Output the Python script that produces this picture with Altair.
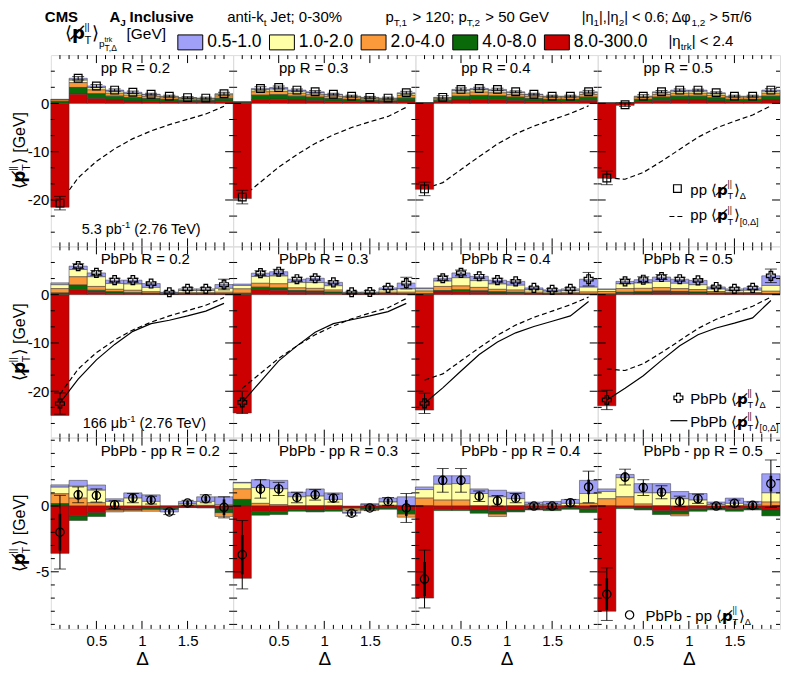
import altair as alt
import pandas as pd

FONT = "Liberation Sans"
SYM_FONT = "DejaVu Sans"

# ------------------------------------------------------------------ data
BIN_EDGES = [0.0, 0.2, 0.4, 0.6, 0.8, 1.0, 1.2, 1.4, 1.6, 1.8, 2.0]
BIN_CENTERS = [0.1, 0.3, 0.5, 0.7, 0.9, 1.1, 1.3, 1.5, 1.7, 1.9]
TRACK_PT_BINS = ["0.5-1.0", "1.0-2.0", "2.0-4.0", "4.0-8.0", "8.0-300.0"]
BIN_COLORS = ["#a0a0f8", "#ffffa8", "#fa9a3a", "#0a6a0a", "#cc0000"]
STACK_ORDER = {"8.0-300.0": 0, "4.0-8.0": 1, "2.0-4.0": 2, "1.0-2.0": 3, "0.5-1.0": 4}
CONE_SIZES = ["0.2", "0.3", "0.4", "0.5"]
ROW_LABELS = ["pp", "PbPb", "PbPb - pp"]

# pp <p_T^||>_Delta per track-pT bin
PP_R02 = {
    "0.5-1.0":   [0.05, 0.40, 0.35, 0.25, 0.25, 0.15, 0.10, 0.08, 0.08, 0.15],
    "1.0-2.0":   [0.10, 0.50, 0.45, 0.40, 0.35, 0.30, 0.25, 0.17, 0.15, 0.30],
    "2.0-4.0":   [0.30, 1.00, 0.80, 0.60, 0.50, 0.45, 0.35, 0.30, 0.27, 0.50],
    "4.0-8.0":   [0.40, 1.40, 1.00, 0.80, 0.70, 0.60, 0.50, 0.40, 0.35, 0.60],
    "8.0-300.0": [-21.5, 1.90, 1.00, 0.70, 0.50, 0.40, 0.30, 0.25, 0.25, 0.45],
}
PP_R03 = {
    "0.5-1.0":   [0.02, 0.30, 0.35, 0.25, 0.25, 0.15, 0.10, 0.10, 0.10, 0.20],
    "1.0-2.0":   [0.03, 0.40, 0.45, 0.40, 0.35, 0.30, 0.25, 0.20, 0.18, 0.35],
    "2.0-4.0":   [0.10, 0.70, 0.70, 0.60, 0.50, 0.45, 0.35, 0.30, 0.27, 0.55],
    "4.0-8.0":   [0.15, 0.90, 0.95, 0.80, 0.70, 0.55, 0.45, 0.35, 0.30, 0.60],
    "8.0-300.0": [-19.7, 0.80, 0.85, 0.70, 0.60, 0.45, 0.35, 0.30, 0.25, 0.50],
}
PP_R04 = {
    "0.5-1.0":   [0.01, 0.10, 0.30, 0.30, 0.30, 0.20, 0.15, 0.10, 0.10, 0.20],
    "1.0-2.0":   [0.02, 0.20, 0.45, 0.45, 0.40, 0.35, 0.30, 0.25, 0.25, 0.35],
    "2.0-4.0":   [0.03, 0.30, 0.65, 0.70, 0.65, 0.55, 0.45, 0.35, 0.35, 0.55],
    "4.0-8.0":   [0.04, 0.35, 0.80, 0.85, 0.80, 0.70, 0.55, 0.45, 0.45, 0.70],
    "8.0-300.0": [-17.8, 0.30, 0.70, 0.80, 0.75, 0.60, 0.45, 0.35, 0.35, 0.60],
}
PP_R05 = {
    "0.5-1.0":   [0.01, 0.01, 0.10, 0.20, 0.25, 0.25, 0.20, 0.10, 0.10, 0.25],
    "1.0-2.0":   [0.01, 0.02, 0.25, 0.35, 0.40, 0.40, 0.35, 0.25, 0.25, 0.40],
    "2.0-4.0":   [0.02, 0.05, 0.35, 0.55, 0.60, 0.60, 0.50, 0.35, 0.35, 0.60],
    "4.0-8.0":   [0.03, 0.05, 0.45, 0.70, 0.80, 0.80, 0.65, 0.45, 0.45, 0.80],
    "8.0-300.0": [-15.5, -0.40, 0.35, 0.60, 0.70, 0.70, 0.50, 0.35, 0.35, 0.70],
}

# PbPb
PBPB_R02 = {
    "0.5-1.0":   [0.40, 0.70, 0.80, 0.70, 0.80, 0.80, 0.15, 0.35, 0.35, 0.80],
    "1.0-2.0":   [0.80, 1.50, 2.00, 1.20, 1.30, 0.90, 0.15, 0.45, 0.45, 0.80],
    "2.0-4.0":   [0.90, 1.70, 0.80, 0.50, 0.50, 0.30, 0.10, 0.20, 0.20, 0.30],
    "4.0-8.0":   [0.35, 1.00, 0.40, 0.30, 0.20, 0.20, 0.05, 0.10, 0.10, 0.10],
    "8.0-300.0": [-25.0, 1.00, 0.50, 0.30, 0.20, 0.10, 0.05, 0.10, 0.10, 0.10],
}
PBPB_R03 = {
    "0.5-1.0":   [0.30, 0.70, 0.90, 0.70, 0.90, 0.70, 0.10, 0.15, 0.40, 1.20],
    "1.0-2.0":   [0.70, 1.40, 1.60, 1.10, 1.20, 0.90, 0.15, 0.15, 0.50, 0.70],
    "2.0-4.0":   [0.90, 0.80, 0.85, 0.55, 0.55, 0.40, 0.10, 0.10, 0.25, 0.30],
    "4.0-8.0":   [0.30, 0.55, 0.50, 0.35, 0.30, 0.25, 0.05, 0.05, 0.10, 0.10],
    "8.0-300.0": [-24.5, 1.00, 0.90, 0.50, 0.45, 0.30, 0.10, 0.10, 0.15, 0.10],
}
PBPB_R04 = {
    "0.5-1.0":   [0.20, 0.60, 1.00, 0.90, 0.80, 0.80, 0.40, 0.30, 0.40, 1.65],
    "1.0-2.0":   [0.45, 1.10, 1.70, 1.40, 1.10, 1.00, 0.50, 0.35, 0.40, 1.00],
    "2.0-4.0":   [0.55, 0.85, 0.80, 0.70, 0.50, 0.45, 0.25, 0.15, 0.20, 0.40],
    "4.0-8.0":   [0.20, 0.30, 0.40, 0.30, 0.25, 0.20, 0.10, 0.10, 0.10, 0.10],
    "8.0-300.0": [-23.9, 0.55, 0.60, 0.50, 0.35, 0.30, 0.15, 0.10, 0.10, 0.05],
}
PBPB_R05 = {
    "0.5-1.0":   [0.15, 0.50, 0.70, 0.90, 0.85, 0.90, 0.45, 0.40, 0.50, 2.00],
    "1.0-2.0":   [0.40, 1.00, 1.10, 1.30, 1.10, 1.00, 0.50, 0.35, 0.45, 1.20],
    "2.0-4.0":   [0.50, 0.75, 0.70, 0.70, 0.60, 0.50, 0.30, 0.20, 0.20, 0.50],
    "4.0-8.0":   [0.15, 0.20, 0.25, 0.30, 0.25, 0.25, 0.15, 0.10, 0.10, 0.10],
    "8.0-300.0": [-23.0, 0.30, 0.35, 0.45, 0.40, 0.30, 0.20, 0.15, 0.15, 0.10],
}

# PbPb - pp
DIFF_R02 = {
    "0.5-1.0":   [0.18, 0.45, 0.40, 0.20, 0.40, 0.50, -0.20, 0.20, 0.35, 0.60],
    "1.0-2.0":   [0.50, 0.90, 0.95, 0.35, 0.60, 0.35, 0.00, 0.10, 0.30, 0.10],
    "2.0-4.0":   [0.75, 0.60, 0.25, -0.15, -0.10, -0.15, -0.05, 0.05, 0.05, -0.30],
    "4.0-8.0":   [0.18, -0.35, -0.30, -0.10, -0.10, -0.10, -0.10, -0.02, -0.05, -0.30],
    "8.0-300.0": [-3.60, -0.75, -0.50, -0.20, -0.20, -0.15, -0.10, -0.10, -0.10, -0.20],
}
DIFF_R03 = {
    "0.5-1.0":   [0.05, 0.60, 0.65, 0.35, 0.55, 0.50, -0.10, 0.10, 0.30, 0.70],
    "1.0-2.0":   [0.45, 1.20, 1.20, 0.70, 0.75, 0.50, -0.15, 0.08, 0.25, 0.00],
    "2.0-4.0":   [0.80, 0.20, 0.10, 0.00, 0.00, 0.00, -0.15, -0.08, 0.05, -0.25],
    "4.0-8.0":   [0.50, -0.30, -0.25, -0.15, -0.15, -0.15, -0.05, -0.10, -0.10, -0.30],
    "8.0-300.0": [-5.50, -0.40, -0.40, -0.25, -0.30, -0.25, -0.10, -0.15, -0.15, -0.30],
}
DIFF_R04 = {
    "0.5-1.0":   [0.20, 0.65, 0.60, 0.35, 0.50, 0.50, 0.20, 0.25, 0.30, 1.00],
    "1.0-2.0":   [0.65, 1.20, 1.25, 0.95, 0.70, 0.55, 0.10, 0.10, 0.20, 0.75],
    "2.0-4.0":   [0.60, 0.45, 0.45, 0.00, -0.20, 0.00, 0.00, 0.00, 0.00, 0.20],
    "4.0-8.0":   [0.00, -0.10, -0.10, -0.25, -0.25, -0.15, -0.10, -0.15, -0.10, -0.30],
    "8.0-300.0": [-7.00, -0.25, -0.25, -0.30, -0.35, -0.30, -0.20, -0.20, -0.15, -0.20],
}
DIFF_R05 = {
    "0.5-1.0":   [0.20, 0.25, 0.70, 0.70, 0.55, 0.50, 0.20, 0.40, 0.25, 1.45],
    "1.0-2.0":   [0.55, 1.45, 0.85, 1.00, 0.55, 0.45, 0.10, 0.20, 0.10, 0.70],
    "2.0-4.0":   [0.55, 0.70, 0.15, 0.00, -0.15, 0.00, -0.05, 0.00, 0.00, 0.30],
    "4.0-8.0":   [0.00, -0.10, -0.15, -0.30, -0.25, -0.20, -0.10, -0.20, -0.15, -0.45],
    "8.0-300.0": [-8.00, -0.10, -0.15, -0.35, -0.35, -0.20, -0.15, -0.20, -0.15, -0.30],
}

# cumulative <p_T^||>_[0,Delta] curves (at bin centres)
PP_CUM_R02 = [-20.6, -15.4, -12.0, -9.4, -7.3, -5.7, -4.4, -3.3, -2.2, -0.6]
PP_CUM_R03 = [-19.4, -16.3, -13.2, -10.6, -8.3, -6.5, -5.0, -3.8, -2.7, -0.8]
PP_CUM_R04 = [-17.7, -16.4, -13.7, -11.0, -8.4, -6.3, -4.7, -3.4, -2.1, -0.5]
PP_CUM_R05 = [-15.4, -15.7, -14.3, -12.0, -9.5, -7.0, -5.1, -3.7, -2.4, -0.5]
PBPB_CUM_R02 = [-22.4, -17.5, -13.5, -10.3, -7.6, -6.0, -5.3, -4.4, -3.4, -1.8]
PBPB_CUM_R03 = [-22.3, -18.0, -13.7, -10.6, -7.8, -6.0, -5.2, -4.4, -3.5, -1.8]
PBPB_CUM_R04 = [-22.5, -19.3, -15.8, -12.4, -9.8, -7.9, -6.6, -5.5, -4.4, -1.4]
PBPB_CUM_R05 = [-21.8, -19.4, -16.8, -13.6, -10.6, -8.3, -6.9, -5.9, -4.8, -1.2]

# uncertainties
PP_SYS = [1.4, 0.35, 0.3, 0.25, 0.25, 0.2, 0.2, 0.2, 0.2, 0.3]
PP_STAT = [0.2, 0.1, 0.1, 0.1, 0.1, 0.1, 0.1, 0.1, 0.1, 0.1]
PBPB_SYS_R02 = [2.2, 0.5, 0.5, 0.4, 0.4, 0.3, 0.2, 0.3, 0.3, 1.1]
PBPB_SYS_R03 = [2.3, 0.5, 0.5, 0.4, 0.4, 0.3, 0.2, 0.3, 0.3, 1.2]
PBPB_SYS_R04 = [2.1, 0.5, 0.6, 0.4, 0.4, 0.3, 0.2, 0.3, 0.3, 1.4]
PBPB_SYS_R05 = [2.0, 0.5, 0.6, 0.5, 0.4, 0.3, 0.2, 0.3, 0.3, 1.4]
PBPB_STAT = [0.4, 0.2, 0.2, 0.2, 0.2, 0.2, 0.2, 0.2, 0.2, 0.4]
DIFF_SYS_R02 = [2.8, 0.6, 0.5, 0.3, 0.35, 0.3, 0.2, 0.2, 0.3, 0.8]
DIFF_SYS_R03 = [2.6, 0.7, 0.5, 0.4, 0.4, 0.3, 0.2, 0.2, 0.3, 1.1]
DIFF_SYS_R04 = [2.2, 0.9, 0.9, 0.4, 0.4, 0.35, 0.2, 0.2, 0.25, 1.2]
DIFF_SYS_R05 = [2.0, 0.6, 0.6, 0.5, 0.4, 0.35, 0.2, 0.25, 0.25, 1.8]
DIFF_STAT_R02 = [1.4, 0.35, 0.3, 0.2, 0.3, 0.25, 0.15, 0.15, 0.2, 0.6]
DIFF_STAT_R03 = [1.5, 0.4, 0.35, 0.25, 0.3, 0.3, 0.15, 0.15, 0.2, 0.6]
DIFF_STAT_R04 = [1.3, 0.35, 0.35, 0.3, 0.3, 0.25, 0.15, 0.15, 0.2, 0.55]
DIFF_STAT_R05 = [1.2, 0.35, 0.35, 0.3, 0.3, 0.25, 0.15, 0.15, 0.2, 0.6]

# axis ticks
X_MAJOR = [0.5, 1.0, 1.5]
X_MINOR = [0.1, 0.2, 0.3, 0.4, 0.6, 0.7, 0.8, 0.9, 1.1, 1.2, 1.3, 1.4, 1.6, 1.7, 1.8, 1.9]
Y_MAJOR = [[-20, -10, 0], [-20, -10, 0], [-5, 0]]
Y_MINOR = [
    [-26.667, -23.333, -16.667, -13.333, -6.667, -3.333, 3.333, 6.667],
    [-26.667, -23.333, -16.667, -13.333, -6.667, -3.333, 3.333, 6.667],
    [-9, -8, -7, -6, -4, -3, -2, -1, 1, 2, 3, 4, 5],
]
Y_DOMAINS = [[-29.6, 10.0], [-29.6, 10.0], [-9.34, 5.2]]

PANELS = [
    [(PP_R02, PP_SYS, PP_STAT, PP_CUM_R02, None),
     (PP_R03, PP_SYS, PP_STAT, PP_CUM_R03, None),
     (PP_R04, PP_SYS, PP_STAT, PP_CUM_R04, None),
     (PP_R05, PP_SYS, PP_STAT, PP_CUM_R05, None)],
    [(PBPB_R02, PBPB_SYS_R02, PBPB_STAT, PP_CUM_R02, PBPB_CUM_R02),
     (PBPB_R03, PBPB_SYS_R03, PBPB_STAT, PP_CUM_R03, PBPB_CUM_R03),
     (PBPB_R04, PBPB_SYS_R04, PBPB_STAT, PP_CUM_R04, PBPB_CUM_R04),
     (PBPB_R05, PBPB_SYS_R05, PBPB_STAT, PP_CUM_R05, PBPB_CUM_R05)],
    [(DIFF_R02, DIFF_SYS_R02, DIFF_STAT_R02, None, None),
     (DIFF_R03, DIFF_SYS_R03, DIFF_STAT_R03, None, None),
     (DIFF_R04, DIFF_SYS_R04, DIFF_STAT_R04, None, None),
     (DIFF_R05, DIFF_SYS_R05, DIFF_STAT_R05, None, None)],
]
MARKERS = [("square", 60), ("cross", 80), ("circle", 70)]

W = 183
H = 192

# ------------------------------------------------------------------ text helpers
_LOW = dict(zip("abcdefghijklmnopqrstuvwxyz",
                [.556, .556, .5, .556, .556, .278, .556, .556, .222, .222, .5, .222, .833,
                 .556, .556, .556, .556, .333, .5, .278, .556, .5, .722, .5, .5, .5]))
_UP = dict(zip("ABCDEFGHIJKLMNOPQRSTUVWXYZ",
               [.667, .667, .722, .722, .667, .611, .778, .722, .278, .5, .667, .556, .833,
                .722, .778, .667, .778, .722, .667, .611, .722, .667, .944, .667, .667, .611]))
_OTH = {' ': .278, '.': .278, ',': .278, ';': .278, ':': .278, '-': .333, '>': .584,
        '<': .584, '=': .584, '(': .333, ')': .333, '[': .278, ']': .278, '|': .26,
        '/': .278, '%': .889, 'π': .6, 'Δ': .668, 'φ': .65, 'η': .556, 'μ': .576,
        '⟨': .39, '⟩': .39, '\u0338': 0.0}


def tw(s, f, bold=False):
    tot = 0.0
    for ch in s:
        if ch.isdigit():
            tot += .556
        elif ch in _LOW:
            tot += _LOW[ch]
        elif ch in _UP:
            tot += _UP[ch]
        else:
            tot += _OTH.get(ch, .556)
    return tot * f * (1.06 if bold else 1.0)


def txt(s, x, y, size, weight="normal", angle=0, align="left", font=FONT):
    return alt.Chart(pd.DataFrame({"t": [s]})).mark_text(
        align=align, baseline="alphabetic", font=font, fontSize=size,
        fontWeight=weight, angle=angle, color="black"
    ).encode(text="t:N", x=alt.value(x), y=alt.value(y))


def run(items, x, y, angle=0):
    if angle == 0:
        ax, ay, ux, uy = 1, 0, 0, -1
    else:
        ax, ay, ux, uy = 0, -1, -1, 0
    charts = []
    u = 0.0
    for it in items:
        t, s = it["t"], it["s"]
        v = it.get("v", 0)
        w = it.get("w", "normal")
        du = it.get("du", 0)
        fnt = it.get("font", FONT)
        lead = len(t) - len(t.lstrip(" "))
        tt = t.strip(" ")
        uu = u + du + lead * 0.278 * s
        if tt:
            charts.append(txt(tt, x + uu * ax + v * ux, y + uu * ay + v * uy, s, w, angle,
                              font=fnt))
        adv = it.get("adv")
        u += tw(t, s, w == "bold") if adv is None else adv
    return charts


def ptsym(f, sub=None):
    items = [
        {"t": "⟨", "s": f, "adv": 0.40 * f},
        {"t": "p\u0338", "s": f, "w": "bold", "font": SYM_FONT, "adv": 0.70 * f},
        {"t": "||", "s": 0.55 * f, "v": 0.52 * f, "adv": 0},
        {"t": "T", "s": 0.62 * f, "v": -0.28 * f, "adv": 0.42 * f},
        {"t": "⟩", "s": f, "adv": 0.39 * f},
    ]
    if sub:
        items.append({"t": sub, "s": 0.62 * f, "v": -0.3 * f})
    return items


PT_LEN = 1.91  # length of <p_T> symbol in units of font size


def one_row():
    return pd.DataFrame({"k": [0]})


# ------------------------------------------------------------------ panels
COLOR_SCALE = alt.Scale(domain=TRACK_PT_BINS, range=BIN_COLORS)
LEGEND = alt.Legend(orient="none", legendX=127, legendY=-26, direction="horizontal",
                    columns=5, title=None, symbolType="M-1,-0.6H1V0.6H-1Z",
                    symbolSize=625, symbolStrokeColor="black", symbolStrokeWidth=1,
                    symbolOpacity=1, labelFontSize=17.5, labelFont=FONT, labelOffset=4,
                    columnPadding=5, padding=0)


def bars_frame(comp, sysv, statv):
    recs = []
    for k in range(len(BIN_CENTERS)):
        for name in TRACK_PT_BINS:
            recs.append({"lo": BIN_EDGES[k], "hi": BIN_EDGES[k + 1], "xc": BIN_CENTERS[k],
                         "comp": name, "order": STACK_ORDER[name], "value": comp[name][k],
                         "sys": sysv[k], "stat": statv[k]})
    return pd.DataFrame(recs)


def make_panel(r, c):
    comp, sysv, statv, cum_pp, cum_pbpb = PANELS[r][c]
    df = bars_frame(comp, sysv, statv)
    xs = alt.Scale(domain=[0, 2], nice=False, zero=False)
    ys = alt.Scale(domain=Y_DOMAINS[r], nice=False, zero=False)
    if r == 2:
        xax = alt.Axis(values=X_MAJOR, labelExpr="datum.value == 1 ? '1' : format(datum.value, '.1f')",
                       ticks=False, tickSize=0, domain=False, grid=False, labelPadding=5,
                       labelFontSize=15, labelFlush=False, title="Δ", titleFontSize=19,
                       titleFontWeight="normal", titlePadding=1)
    else:
        xax = None
    if c == 0:
        yax = alt.Axis(values=Y_MAJOR[r], labelExpr="toString(datum.value)", ticks=False,
                       tickSize=0, domain=False, grid=False, labelPadding=2,
                       labelFontSize=15, title=None)
    else:
        yax = None

    layers = []
    bars = alt.Chart(df).transform_stack(
        stack="value", groupby=["xc"], as_=["y0", "y1"],
        sort=[alt.SortField("order", "ascending")], offset="zero"
    ).mark_rect(stroke="#333333", strokeWidth=0.5).encode(
        x=alt.X("lo:Q", scale=xs, axis=xax), x2=alt.X2("hi"),
        y=alt.Y("y0:Q", scale=ys, axis=yax), y2=alt.Y2("y1"),
        color=alt.Color("comp:N", scale=COLOR_SCALE, legend=LEGEND),
    )

    line_layers = []
    if cum_pp is not None:
        ldf = pd.DataFrame({"xc": BIN_CENTERS, "cum": cum_pp})
        line_layers.append(alt.Chart(ldf).mark_line(color="black", strokeWidth=1.2,
                                                     strokeDash=[5, 3]).encode(
            x=alt.X("xc:Q", scale=xs, axis=xax), y=alt.Y("cum:Q", scale=ys, axis=yax)))
    if cum_pbpb is not None:
        ldf2 = pd.DataFrame({"xc": BIN_CENTERS, "cum": cum_pbpb})
        line_layers.append(alt.Chart(ldf2).mark_line(color="black", strokeWidth=1.2).encode(
            x=alt.X("xc:Q", scale=xs, axis=xax), y=alt.Y("cum:Q", scale=ys, axis=yax)))

    if r == 0:
        layers += line_layers + [bars]
    else:
        layers += [bars] + line_layers

    agg = alt.Chart(df).transform_aggregate(
        total="sum(value)", sys="max(sys)", stat="max(stat)", groupby=["xc"]
    ).transform_calculate(
        slo="datum.total - datum.sys", shi="datum.total + datum.sys",
        tlo="datum.total - datum.stat", thi="datum.total + datum.stat")
    X_ = alt.X("xc:Q", scale=xs, axis=xax)
    layers.append(agg.mark_rule(color="black", strokeWidth=1).encode(
        x=X_, y=alt.Y("slo:Q", scale=ys, axis=yax), y2=alt.Y2("shi")))
    if r == 2:
        layers.append(agg.mark_rule(color="black", strokeWidth=2.6).encode(
            x=X_, y=alt.Y("tlo:Q", scale=ys, axis=yax), y2=alt.Y2("thi")))
    for fld in ["slo", "shi"]:
        layers.append(agg.mark_tick(orient="horizontal", size=12, thickness=1,
                                    color="black").encode(
            x=X_, y=alt.Y(fld + ":Q", scale=ys, axis=yax)))
    shape, msize = MARKERS[r]
    layers.append(agg.mark_point(shape=shape, filled=False, size=msize, color="black",
                                 strokeWidth=1.2, opacity=1).encode(
        x=X_, y=alt.Y("total:Q", scale=ys, axis=yax)))

    # inward ticks on all four sides
    xmaj = pd.DataFrame({"v": X_MAJOR})
    xmin = pd.DataFrame({"v": X_MINOR})
    ymaj = pd.DataFrame({"v": Y_MAJOR[r]})
    ymin = pd.DataFrame({"v": Y_MINOR[r]})
    for d, ln in [(xmaj, 8), (xmin, 4)]:
        for y_a, y_b in [(H, H - ln), (0, ln)]:
            layers.append(alt.Chart(d).mark_rule(color="black", strokeWidth=1).encode(
                x=alt.X("v:Q", scale=xs, axis=xax), y=alt.value(y_a), y2=alt.value(y_b)))
    for d, ln in [(ymaj, 8), (ymin, 4)]:
        for x_a, x_b in [(0, ln), (W, W - ln)]:
            layers.append(alt.Chart(d).mark_rule(color="black", strokeWidth=1).encode(
                y=alt.Y("v:Q", scale=ys, axis=yax), x=alt.value(x_a), x2=alt.value(x_b)))

    # panel label
    label = ROW_LABELS[r] + " R = " + CONE_SIZES[c]
    layers.append(txt(label, 50 if c == 0 else 46, 18, 15))

    # y-axis title
    if c == 0:
        items = ptsym(17) + [{"t": " [GeV]", "s": 16}]
        L = PT_LEN * 17 + tw(" [GeV]", 16)
        layers += run(items, -26, H / 2 + L / 2, angle=270)

    # luminosity notes
    if r == 0 and c == 0:
        layers += run([{"t": "5.3 pb", "s": 14.5}, {"t": "-1", "s": 9.5, "v": 6},
                       {"t": " (2.76 TeV)", "s": 14.5}], 31, 180)
    if r == 1 and c == 0:
        layers += run([{"t": "166 μb", "s": 14.5}, {"t": "-1", "s": 9.5, "v": 6},
                       {"t": " (2.76 TeV)", "s": 14.5}], 32, 182)

    # header (drawn from top-left panel)
    if r == 0 and c == 0:
        hy = -33
        layers += run([{"t": "CMS", "s": 15, "w": "bold"}], -6, hy)
        layers += run([{"t": "A", "s": 15, "w": "bold"}, {"t": "J", "s": 10, "w": "bold", "v": -4},
                       {"t": " Inclusive", "s": 15, "w": "bold"}], 59, hy)
        layers += run([{"t": "anti-k", "s": 15}, {"t": "t", "s": 10, "v": -4},
                       {"t": " Jet; 0-30%", "s": 15}], 177, hy)
        layers += run([{"t": "p", "s": 15}, {"t": "T,1", "s": 10, "v": -4},
                       {"t": " > 120; p", "s": 15}, {"t": "T,2", "s": 10, "v": -4},
                       {"t": " > 50 GeV", "s": 15}], 336, hy)
        layers += run([{"t": "|η", "s": 14.5}, {"t": "1", "s": 10, "v": -4},
                       {"t": "|,|η", "s": 14.5}, {"t": "2", "s": 10, "v": -4},
                       {"t": "| < 0.6; Δφ", "s": 14.5}, {"t": "1,2", "s": 10, "v": -4},
                       {"t": " > 5π/6", "s": 14.5}], 533, hy)
        # legend title
        layers += run(ptsym(18) + [{"t": "p", "s": 10, "v": -8, "adv": 5.6},
                                   {"t": "trk", "s": 7, "v": -3, "adv": 0},
                                   {"t": "T,Δ", "s": 8.5, "v": -12}], 14, -16)
        layers += run([{"t": "[GeV]", "s": 15.5}], 76, -16)
        layers += run([{"t": "|η", "s": 15}, {"t": "trk", "s": 10, "v": -4},
                       {"t": "| < 2.4", "s": 15}], 620, -9)

    # corner legends
    if c == 3 and r == 0:
        layers.append(alt.Chart(one_row()).mark_point(shape="square", filled=False, size=60,
                                                      color="black", strokeWidth=1.2, opacity=1)
                      .encode(x=alt.value(80), y=alt.value(134)))
        layers += run([{"t": "pp ", "s": 15}] + ptsym(15, "Δ"), 93, 140)
        layers.append(alt.Chart(one_row()).mark_rule(color="black", strokeWidth=1.2,
                                                     strokeDash=[5, 3])
                      .encode(x=alt.value(72), x2=alt.value(88), y=alt.value(162)))
        layers += run([{"t": "pp ", "s": 15}] + ptsym(15, "[0,Δ]"), 93, 166)
    if c == 3 and r == 1:
        layers.append(alt.Chart(one_row()).mark_point(shape="cross", filled=False, size=80,
                                                      color="black", strokeWidth=1.2, opacity=1)
                      .encode(x=alt.value(81), y=alt.value(152)))
        layers += run([{"t": "PbPb ", "s": 15}] + ptsym(15, "Δ"), 93, 158)
        layers.append(alt.Chart(one_row()).mark_rule(color="black", strokeWidth=1.2)
                      .encode(x=alt.value(73), x2=alt.value(90), y=alt.value(175)))
        layers += run([{"t": "PbPb ", "s": 15}] + ptsym(15, "[0,Δ]"), 93, 181)
    if c == 3 and r == 2:
        layers.append(alt.Chart(one_row()).mark_point(shape="circle", filled=False, size=70,
                                                      color="black", strokeWidth=1.2, opacity=1)
                      .encode(x=alt.value(32), y=alt.value(178)))
        layers += run([{"t": "PbPb - pp ", "s": 15}] + ptsym(15, "Δ"), 48, 184)

    return alt.layer(*layers).properties(width=W, height=H)


panels = [make_panel(r, c) for r in range(3) for c in range(4)]

chart = alt.concat(*panels, columns=4, spacing=0, bounds="flush").properties(
    padding=0
).configure_view(
    stroke="black", strokeWidth=1.3
).configure_axis(
    labelFont=FONT, titleFont=FONT, labelColor="black", titleColor="black"
).configure(background="white")

chart.save("out.html", embed_options={"renderer": "svg", "actions": False})
